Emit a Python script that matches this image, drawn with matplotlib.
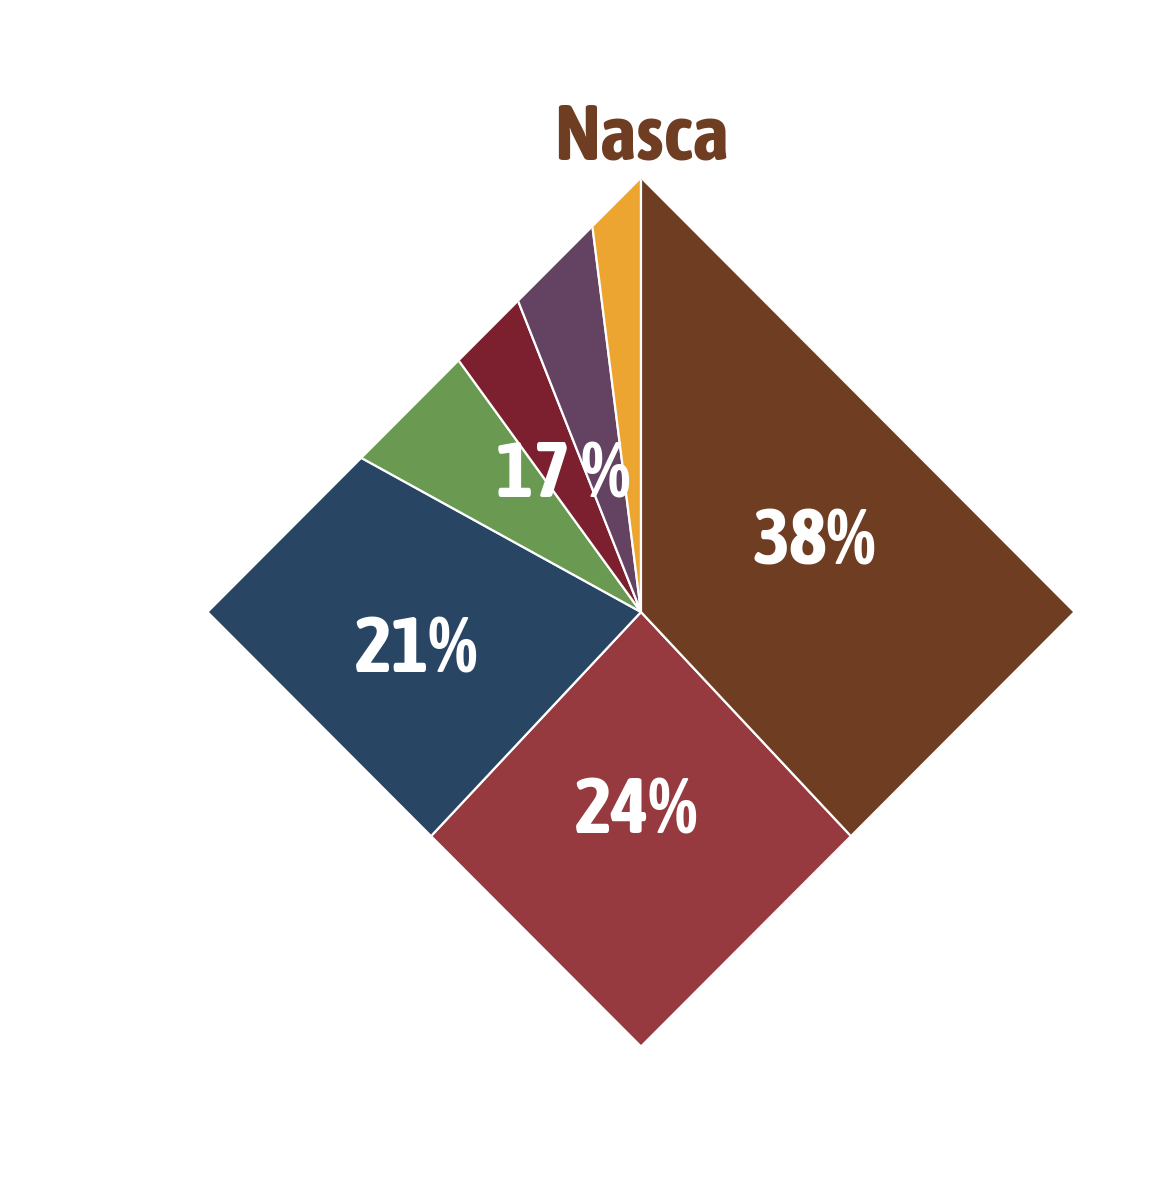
import numpy as np
import matplotlib.pyplot as plt
from matplotlib import font_manager
from matplotlib.patches import Polygon

# Datos
categorias = ['Nasca', 'B', 'C', 'D', 'E', 'F', 'G']
valores = [38, 24, 21, 7, 4, 4, 2]
colores = ['#6F3D22', '#963A3F', '#284664', '#6A9A52', '#7C2030', '#634262', '#EDA532']
etiquetas = ['38%', '24%', '21%', '17 %']
pos_etiquetas = [(0.40, 0.16), (-0.01, -0.46), (-0.52, -0.09), (-0.18, 0.315)]

# Buscar una fuente estrecha en negrita si hay
def peso(f):
    w = f.weight
    if isinstance(w, str):
        w = font_manager.weight_dict.get(w, 400)
    return w

fuente, estiramiento = ['Liberation Sans', 'DejaVu Sans'], 'normal'
candidatas = [f for f in font_manager.fontManager.ttflist
              if ('Narrow' in f.name or 'Condensed' in f.name)
              and 'Extra' not in f.name and 'Semi' not in f.name and peso(f) >= 700]
if candidatas:
    candidatas.sort(key=lambda f: abs(peso(f) - 700))
    fuente = [candidatas[0].name, 'DejaVu Sans']
else:
    for f in font_manager.fontManager.ttflist:
        st = f.stretch
        if (st in ('condensed',) or (isinstance(st, int) and 300 < st < 500)) and peso(f) >= 700:
            fuente, estiramiento = [f.name, 'DejaVu Sans'], 'condensed'
            break

fig = plt.figure(figsize=(11.58, 11.78), dpi=100)
ax = fig.add_axes([0, 0, 1, 1])

wedges, _ = ax.pie(valores, colors=colores, startangle=90, counterclock=False,
                   radius=3, wedgeprops=dict(edgecolor='white', linewidth=1.6))

# Recortar en forma de rombo
rombo = Polygon([(0, 1), (1, 0), (0, -1), (-1, 0)], closed=True,
                transform=ax.transData, facecolor='none', edgecolor='none')
ax.add_patch(rombo)
for w in wedges:
    w.set_clip_on(True)
    w.set_clip_path(rombo)
wedges[0].set_zorder(3)

ax.set_xlim(-641 / 432, (1158 - 641) / 432)
ax.set_ylim((612 - 1178) / 433, 612 / 433)
ax.set_aspect('auto')
ax.axis('off')

for i, (txt, (x, y)) in enumerate(zip(etiquetas, pos_etiquetas)):
    ax.text(x, y, txt, color='white', fontsize=57, fontweight='bold', family=fuente,
            fontstretch=estiramiento, ha='center', va='center', zorder=2 if i == 3 else 5)

ax.text(0.0, 1.095, categorias[0], color=colores[0], fontsize=56, fontweight='bold',
        family=fuente, fontstretch=estiramiento, ha='center', va='center')

fig.savefig('out.png', dpi=100)
